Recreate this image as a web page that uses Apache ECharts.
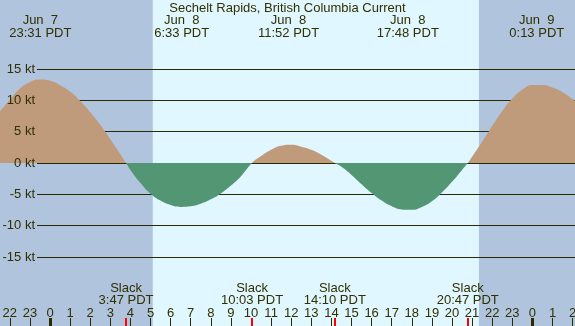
<!DOCTYPE html>
<html>
<head>
<meta charset="utf-8">
<script src="https://cdn.jsdelivr.net/npm/echarts@6/dist/echarts.min.js"></script>
<style>
  html, body { margin: 0; padding: 0; background: #e0f7ff; }
  #chart { width: 575px; height: 326px; }
</style>
</head>
<body>
<div id="chart"></div>
<script>
// hours relative to Jun 8 00:00 PDT, current speed in knots (flood +, ebb -)
const hours = [-2.5, -2, -1.5, -1, -0.5, 0, 0.5, 1, 1.5, 2, 2.5, 3, 3.5, 3.783,
  4, 4.5, 5, 5.5, 6, 6.5, 7, 7.5, 8, 8.5, 9, 9.5, 10.05,
  10.5, 11, 11.5, 12, 12.5, 13, 13.5, 14.167,
  14.5, 15, 15.5, 16, 16.5, 17, 17.5, 18, 18.5, 19, 19.5, 20, 20.5, 20.783,
  21, 21.5, 22, 22.5, 23, 23.5, 24, 24.5, 25, 25.5, 26, 26.5];
const knots = [8.2, 10.1, 11.9, 12.9, 13.3, 13.1, 12.4, 11.4, 9.9, 8.1, 6.1, 3.8, 1.4, 0,
  -1.1, -3.2, -4.9, -6.0, -6.7, -7.0, -6.9, -6.5, -5.8, -4.85, -3.6, -2.1, 0,
  1.1, 2.1, 2.75, 2.9, 2.6, 2.1, 1.3, 0,
  -0.6, -1.9, -3.4, -4.8, -6.0, -6.9, -7.4, -7.47, -7.0, -6.1, -4.7, -3.0, -1.1, 0,
  1.0, 3.4, 5.9, 8.3, 10.3, 11.7, 12.45, 12.45, 12.05, 11.3, 10.2, 8.8];

const nightBands = [[-2.49, 5.11], [21.34, 26.12]];
const eventHours = [-0.483, 6.55, 11.867, 17.8, 24.217];
const eventDates = ['Jun  7', 'Jun  8', 'Jun  8', 'Jun  8', 'Jun  9'];
const eventTimes = ['23:31 PDT', '6:33 PDT', '11:52 PDT', '17:48 PDT', '0:13 PDT'];
const slackHours = [3.783, 10.05, 14.167, 20.783];
const slackTimes = ['3:47 PDT', '10:03 PDT', '14:10 PDT', '20:47 PDT'];
const hourTicks = [-2, -1, 0, 1, 2, 3, 4, 5, 6, 7, 8, 9, 10, 11, 12, 13, 14, 15, 16, 17, 18, 19, 20, 21, 22, 23, 24, 25, 26];
const midnightTicks = [0, 24];
const knotLevels = [-15, -10, -5, 0, 5, 10, 15];

const xMin = -2.49, xMax = 26.12;
const yMax = 26;            // main grid spans -26..26 kt over the full height
const levelMax = 15;        // level lines drawn from -15..15 kt
const textColor = '#303000';
const lineColor = '#2a2a00';
const font = 'Liberation Sans';

const current = hours.map((h, i) => [h, knots[i]]);

// the level-line grid is inset so its -15..15 range lines up with the main axis
const H = 326;
const levelInset = H / 2 - (levelMax / yMax) * (H / 2);

const chart = echarts.init(document.getElementById('chart'));

// layers: 0 = background bands + level lines, 1 = current fill, 2 = text and ticks
const hiddenX = {
  type: 'value', min: xMin, max: xMax, gridIndex: 0, position: 'bottom', zlevel: 2, z: 10,
  axisLine: { show: false, onZero: false }, splitLine: { show: false },
  axisTick: { show: false }, axisLabel: { show: false }
};

chart.setOption({
  animation: false,
  backgroundColor: '#e0f7ff',
  textStyle: { fontFamily: font },
  title: {
    text: 'Sechelt Rapids, British Columbia Current',
    left: 'center', top: 2, padding: 0, zlevel: 2, z: 10,
    textStyle: { fontSize: 13, fontWeight: 'normal', color: textColor, fontFamily: font }
  },
  grid: [
    { left: 0, right: 0, top: 0, bottom: 0, outerBoundsMode: 'none' },
    { left: 37, right: 0, top: levelInset, bottom: levelInset, outerBoundsMode: 'none' }
  ],
  visualMap: {
    type: 'piecewise', show: false, dimension: 1, seriesIndex: 2,
    pieces: [
      { gt: 0, lte: 50, color: '#bf9b7b' },
      { gte: -50, lte: 0, color: '#529673' }
    ]
  },
  xAxis: [
    // hour ticks
    Object.assign({}, hiddenX, {
      axisTick: { show: true, inside: true, length: 8, customValues: hourTicks, lineStyle: { color: lineColor, width: 1 } },
      axisLabel: {
        show: true, inside: true, margin: 6, customValues: hourTicks,
        fontSize: 13, color: textColor, fontFamily: font,
        formatter: v => String(((v % 24) + 24) % 24)
      }
    }),
    // slack
    Object.assign({}, hiddenX, {
      axisTick: { show: true, inside: true, length: 8, customValues: slackHours, lineStyle: { color: '#ff0000', width: 2 } },
      axisLabel: {
        show: true, inside: true, margin: 20, customValues: slackHours,
        fontSize: 13, lineHeight: 12, color: textColor, fontFamily: font, align: 'center',
        formatter: v => 'Slack\n' + slackTimes[slackHours.indexOf(v)]
      }
    }),
    // midnight
    Object.assign({}, hiddenX, {
      axisTick: { show: true, inside: true, length: 8, customValues: midnightTicks, lineStyle: { color: lineColor, width: 3 } }
    }),
    // max / min events on top
    Object.assign({}, hiddenX, {
      position: 'top',
      axisLabel: {
        show: true, inside: true, margin: 14, customValues: eventHours,
        fontSize: 13, lineHeight: 13, color: textColor, fontFamily: font, align: 'center',
        formatter: v => {
          const i = eventHours.indexOf(v);
          return eventDates[i] + '\n' + eventTimes[i];
        }
      }
    }),
    // level lines grid
    Object.assign({}, hiddenX, { gridIndex: 1, zlevel: 0, z: 2 })
  ],
  yAxis: [
    {
      type: 'value', min: -yMax, max: yMax, gridIndex: 0, zlevel: 2, z: 10,
      axisLine: { show: false, onZero: false }, axisTick: { show: false }, splitLine: { show: false },
      axisLabel: {
        inside: true, align: 'right', margin: 35, customValues: knotLevels,
        fontSize: 13, color: textColor, fontFamily: font,
        formatter: v => v + ' kt'
      }
    },
    {
      type: 'value', min: -levelMax, max: levelMax, interval: 5, gridIndex: 1, zlevel: 0, z: 2,
      axisLine: { show: false, onZero: false }, axisTick: { show: false }, axisLabel: { show: false },
      splitLine: { show: true, showMinLine: true, showMaxLine: true, lineStyle: { color: lineColor, width: 1 } }
    }
  ],
  series: [
    {
      name: 'night', type: 'line', xAxisIndex: 0, yAxisIndex: 0, data: [], zlevel: 0, z: 1,
      markArea: {
        silent: true, zlevel: 0, z: 1,
        itemStyle: { color: '#b0c4de' },
        data: nightBands.map(b => [{ xAxis: b[0] }, { xAxis: b[1] }])
      }
    },
    { name: 'levels', type: 'line', xAxisIndex: 4, yAxisIndex: 1, data: [], zlevel: 0, z: 2 },
    {
      name: 'current', type: 'line', xAxisIndex: 0, yAxisIndex: 0, data: current, zlevel: 1, z: 8,
      smooth: 0.5, symbol: 'none', lineStyle: { width: 0 },
      areaStyle: { opacity: 1 }
    }
  ]
});
</script>
</body>
</html>
